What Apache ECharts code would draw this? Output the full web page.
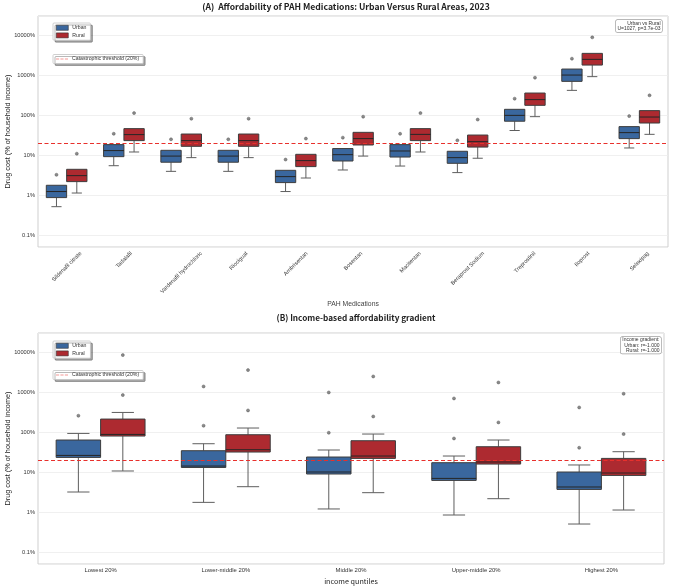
<!DOCTYPE html>
<html><head><meta charset="utf-8">
<script src="https://cdn.jsdelivr.net/npm/echarts@6/dist/echarts.min.js"></script>
<style>html,body{margin:0;padding:0;background:#fff}#c{width:675px;height:587px}</style>
</head><body><div id="c"></div>
<script>
// ---------------- DATA ----------------
const medications = ['Sildenafil citrate','Tadalafil','Vardenafil hydrochloric','Riociguat','Ambrisentan','Bosentan','Macitentan','Beraprost Sodium','Treprostinil','Iloprost','Selexipag'];
// [min, Q1, median, Q3, max]  (% of household income)
const urbanBoxesA = [[0.51,0.86,1.22,1.75,1.75],[5.4,9.1,12.9,18.2,18.2],[3.9,6.6,9.4,13.1,13.1],[3.9,6.6,9.4,13.1,13.1],[1.22,2.04,2.88,4.14,4.14],[4.22,7.08,10.2,14.5,14.5],[5.3,8.9,12.6,18.2,18.2],[3.63,6.2,8.6,12.4,12.4],[41,70,98,139,139],[414,696,1000,1413,1413],[15,25.7,36.3,51.3,51.3]];
const ruralBoxesA = [[1.12,2.16,3.05,4.39,4.39],[11.9,22.9,32.4,45.7,45.7],[8.6,16.5,22.9,33.5,33.5],[8.6,16.5,22.9,33.5,33.5],[2.66,5.13,7.24,10.4,10.4],[9.4,17.8,25.7,36.9,36.9],[11.9,22.9,32.8,45.7,45.7],[8.3,15.8,21.6,31.6,31.6],[91,175,243,355,355],[912,1778,2469,3486,3486],[32.9,63.1,89.1,129,129]];
const urbanOutliersA = [[3.2],[34],[24.7],[24.7],[7.7],[27.2],[34],[23.3],[257],[2570],[94]];
const ruralOutliersA = [[10.8],[112],[81],[81],[25.7],[91],[112],[77],[861],[8760],[311]];

const quintiles = ['Lowest 20%','Lower-middle 20%','Middle 20%','Upper-middle 20%','Highest 20%'];
const urbanBoxesB = [[3.16,23.2,26,63.1,92.3],[1.74,13.0,14.1,34.1,51],[1.19,8.91,10,23.7,35.5],[0.84,6.17,6.92,17.1,25.1],[0.5,3.67,4.22,10,15]];
const ruralBoxesB = [[10.6,79.4,87.1,211,309],[4.29,31.6,36.1,85.6,126],[3.04,21.9,25.1,60.6,89.1],[2.15,15.8,17.8,42.9,63.1],[1.12,8.22,9.44,21.9,32.2]];
const urbanOutliersB = [[256],[144,1380],[96,977],[69,692],[40.5,412]];
const ruralOutliersB = [[841,8414],[347,3548],[245,2455],[174,1738],[89,907]];

const threshold = 20;
const yTickValues = [0.1, 1, 10, 100, 1000, 10000];
const titleA = '(A)  Affordability of PAH Medications: Urban Versus Rural Areas, 2023';
const titleB = '(B) Income-based affordability gradient';
const noteA = 'Urban vs Rural\nU=1027, p=3.7e-03';
const noteB = 'Income gradient:\nUrban: r=-1.000\nRural: r=-1.000';
const thrName = 'Catastrophic threshold (20%)';

// ---------------- STYLE ----------------
const URBAN = '#3a679e', RURAL = '#ad2a30', THR = '#e8302c';
const LAT = 'Liberation Sans';
const CJK = '"Noto Sans CJK KR"';

const mctx = document.createElement('canvas').getContext('2d');
function textW(s, font) { mctx.font = font; return mctx.measureText(s).width; }

const labFsA = 5.6;
// matplotlib-style rotated labels: bounding box centred under the tick
const medCats = medications.map(m => {
  const L = textW(m, labFsA + 'px ' + LAT);
  const a = 0.25 * (L + labFsA);
  return { value: m, textStyle: { align: 'center', verticalAlign: 'top', padding: [Math.max(0, a - labFsA / 2), 2 * a, 0, 0] } };
});

function boxRender(side, color) {
  return function (params, api) {
    const i = api.value(0);
    const v = api.value(3);
    const band = api.coord([1, v])[0] - api.coord([0, v])[0];
    const w = band * 0.355;
    const cx = api.coord([i, v])[0] + side * w / 2;
    const ys = [1, 2, 3, 4, 5].map(k => api.coord([i, api.value(k)])[1]);
    const yMin = ys[0], yQ1 = ys[1], yMed = ys[2], yQ3 = ys[3], yMax = ys[4];
    const cap = w / 2;
    const ws = { stroke: '#5e5e5e', lineWidth: 1 };
    const ch = [];
    ch.push({ type: 'line', shape: { x1: cx, y1: yQ1, x2: cx, y2: yMin }, style: ws });
    ch.push({ type: 'line', shape: { x1: cx - cap / 2, y1: yMin, x2: cx + cap / 2, y2: yMin }, style: ws });
    if (yQ3 - yMax > 0.5) {
      ch.push({ type: 'line', shape: { x1: cx, y1: yQ3, x2: cx, y2: yMax }, style: ws });
      ch.push({ type: 'line', shape: { x1: cx - cap / 2, y1: yMax, x2: cx + cap / 2, y2: yMax }, style: ws });
    }
    ch.push({ type: 'rect', shape: { x: cx - w / 2, y: yQ3, width: w, height: yQ1 - yQ3 }, style: { fill: color, stroke: '#3d3d3d', lineWidth: 1 } });
    ch.push({ type: 'line', shape: { x1: cx - w / 2, y1: yMed, x2: cx + w / 2, y2: yMed }, style: { stroke: '#262626', lineWidth: 1 } });
    return { type: 'group', children: ch };
  };
}
function outRender(side) {
  return function (params, api) {
    const i = api.value(0);
    const v = api.value(1);
    const band = api.coord([1, v])[0] - api.coord([0, v])[0];
    const w = band * 0.355;
    const p = api.coord([i, v]);
    return { type: 'circle', shape: { cx: p[0] + side * w / 2, cy: p[1], r: 1.5 }, style: { fill: '#8a8a8a', stroke: '#5a5a5a', lineWidth: 0.5 } };
  };
}
function boxData(boxes) { return boxes.map((b, i) => [i].concat(b)); }
function outData(outs) { const r = []; outs.forEach((list, i) => list.forEach(v => r.push([i, v]))); return r; }

function yAxis(gridIndex) {
  return {
    type: 'log', logBase: 10, gridIndex, min: 0.05, max: 30000,
    name: 'Drug cost (% of household income)', nameLocation: 'middle', nameGap: 27, nameMoveOverlap: false,
    nameTextStyle: { fontSize: 7.3, color: '#222', fontFamily: LAT },
    axisLine: { show: false }, axisTick: { show: false },
    axisLabel: {
      fontSize: 5.7, color: '#333', fontFamily: LAT, margin: 3, showMinLabel: false, showMaxLabel: false,
      formatter: function (val) {
        const e = Math.log10(val);
        if (Math.abs(e - Math.round(e)) > 1e-6) return '';
        const t = yTickValues.find(x => Math.abs(Math.log10(x) - e) < 1e-6);
        return t === undefined ? '' : String(t) + '%';
      }
    },
    splitLine: { show: true, lineStyle: { color: '#ececec', width: 0.8 } }
  };
}

function boxSeries(name, boxes, side, color, idx) {
  return {
    type: 'custom', name, xAxisIndex: idx, yAxisIndex: idx, renderItem: boxRender(side, color),
    itemStyle: { color }, encode: { x: 0, y: [1, 2, 3, 4, 5] }, data: boxData(boxes), z: 3
  };
}
function outSeries(name, outs, side, idx) {
  return {
    type: 'custom', name, xAxisIndex: idx, yAxisIndex: idx, renderItem: outRender(side),
    encode: { x: 0, y: 1 }, data: outData(outs), z: 4
  };
}
function thrSeries(idx) {
  return {
    type: 'line', name: thrName, xAxisIndex: idx, yAxisIndex: idx, data: [],
    itemStyle: { color: THR }, lineStyle: { color: THR },
    markLine: { silent: true, symbol: 'none', label: { show: false },
      lineStyle: { color: THR, type: [4, 2.5], width: 1.1 }, data: [{ yAxis: threshold }] }, z: 2
  };
}
const legendBox = {
  orient: 'vertical', backgroundColor: '#fff', borderColor: '#c4c4c4', borderWidth: 0.8, borderRadius: 1,
  shadowColor: 'rgba(0,0,0,0.35)', shadowOffsetX: 2, shadowOffsetY: 2, shadowBlur: 0,
  padding: [2, 4, 2, 3], itemGap: 2, itemWidth: 12, itemHeight: 5, selectedMode: false,
  textStyle: { fontSize: 5.2, color: '#333', fontFamily: LAT, padding: [0, 0, 0, -1] }
};
function catLegend(top) {
  return Object.assign({}, legendBox, {
    left: 53, top,
    data: [
      { name: 'Urban', icon: 'rect', itemStyle: { color: URBAN, borderColor: '#333', borderWidth: 0.6 } },
      { name: 'Rural', icon: 'rect', itemStyle: { color: RURAL, borderColor: '#333', borderWidth: 0.6 } }
    ]
  });
}
function thrLegend(top) {
  return Object.assign({}, legendBox, {
    left: 53, top, itemHeight: 1.2,
    data: [{ name: thrName, icon: 'path://M0,0h5v1h-5zM7,0h5v1h-5zM14,0h5v1h-5z', itemStyle: { color: THR } }]
  });
}

const chart = echarts.init(document.getElementById('c'), null, { renderer: 'canvas' });
chart.setOption({
  animation: false,
  backgroundColor: '#fff',
  grid: [
    { left: 38, top: 16, width: 630, height: 231, show: true, borderColor: '#cfcfcf', borderWidth: 1, containLabel: false, outerBoundsMode: 'none' },
    { left: 38, top: 333, width: 626, height: 231, show: true, borderColor: '#cfcfcf', borderWidth: 1, containLabel: false, outerBoundsMode: 'none' }
  ],
  xAxis: [
    { type: 'category', gridIndex: 0, data: medCats, axisLine: { show: false }, axisTick: { show: false },
      name: 'PAH Medications', nameLocation: 'middle', nameGap: 53.5, nameMoveOverlap: false,
      nameTextStyle: { fontSize: 6.8, color: '#444', fontFamily: LAT },
      axisLabel: { interval: 0, rotate: 45, align: 'center', verticalAlign: 'top', margin: 3.5, fontSize: labFsA, color: '#333', fontFamily: LAT, hideOverlap: false } },
    { type: 'category', gridIndex: 1, data: quintiles, axisLine: { show: false }, axisTick: { show: false },
      name: 'income quntiles', nameLocation: 'middle', nameGap: 13.5, nameMoveOverlap: false,
      nameTextStyle: { fontSize: 7.2, color: '#222', fontFamily: CJK },
      axisLabel: { interval: 0, margin: 3, fontSize: 5.9, color: '#333', fontFamily: LAT } }
  ],
  yAxis: [yAxis(0), yAxis(1)],
  legend: [catLegend(23), thrLegend(54.5), catLegend(341), thrLegend(370.5)],
  graphic: [
    { type: 'text', x: 346, y: 6.5, style: { text: titleA, align: 'center', verticalAlign: 'middle', font: 'bold 8.6px ' + CJK, fill: '#222' } },
    { type: 'text', x: 356, y: 318, style: { text: titleB, align: 'center', verticalAlign: 'middle', font: 'bold 8.2px ' + CJK, fill: '#222' } },
    { type: 'text', x: 662, y: 20, z: 10, style: { text: noteA, align: 'right', verticalAlign: 'top', font: '5px ' + LAT, fill: '#333', lineHeight: 5.5,
      backgroundColor: '#fff', borderColor: '#a0a0a0', borderWidth: 0.7, borderRadius: 1.5, padding: [0.5, 1.5, 0.5, 1.5] } },
    { type: 'text', x: 661, y: 337, z: 10, style: { text: noteB, align: 'right', verticalAlign: 'top', font: '5px ' + LAT, fill: '#333', lineHeight: 5.2,
      backgroundColor: '#fff', borderColor: '#a0a0a0', borderWidth: 0.7, borderRadius: 1.5, padding: [0.5, 1.5, 0.5, 1.5] } }
  ],
  series: [
    thrSeries(0),
    boxSeries('Urban', urbanBoxesA, -1, URBAN, 0),
    boxSeries('Rural', ruralBoxesA, 1, RURAL, 0),
    outSeries('UrbanOutA', urbanOutliersA, -1, 0),
    outSeries('RuralOutA', ruralOutliersA, 1, 0),
    thrSeries(1),
    boxSeries('Urban', urbanBoxesB, -1, URBAN, 1),
    boxSeries('Rural', ruralBoxesB, 1, RURAL, 1),
    outSeries('UrbanOutB', urbanOutliersB, -1, 1),
    outSeries('RuralOutB', ruralOutliersB, 1, 1)
  ]
});
</script></body></html>
